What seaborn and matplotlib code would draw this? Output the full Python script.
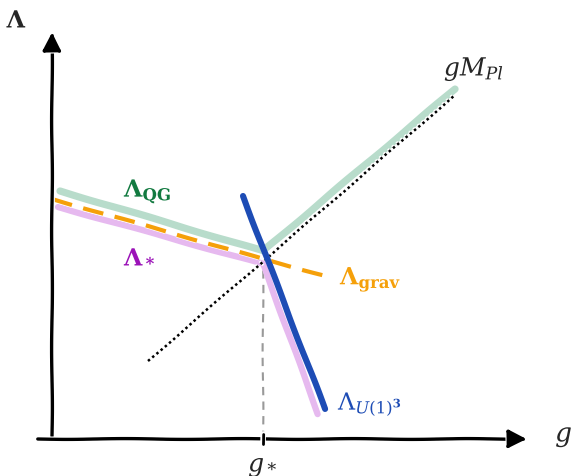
import matplotlib
matplotlib.use("Agg")
import matplotlib.pyplot as plt
import seaborn as sns
import pandas as pd

# Sketch of cutoff scales versus gauge coupling g (arbitrary units)
qg_g = [0.08, 2.11, 4.03]
qg_lam = [2.48, 1.88, 3.50]

grav_g = [0.00, 2.11, 2.78]
grav_lam = [2.40, 1.80, 1.62]

star_g = [0.06, 2.11, 2.66]
star_lam = [2.32, 1.75, 0.25]

u1_g = [1.91, 2.73]
u1_lam = [2.43, 0.30]

mpl_g = [0.96, 4.03]
mpl_lam = [0.78, 3.44]

g_star = 2.11

sns.set_style("white")
plt.xkcd(scale=0.4, length=120, randomness=1.5)
plt.rcParams["font.family"] = ["DejaVu Serif"]
plt.rcParams["mathtext.fontset"] = "dejavuserif"

fig = plt.figure(figsize=(5.73, 4.77), dpi=100)
ax = fig.add_axes([0, 0, 1, 1])
ax.set_xlim(-0.52, 5.21)
ax.set_ylim(-0.37, 4.40)
ax.axis("off")


def draw(gs, lams, color, lw, style="-", zorder=2):
    df = pd.DataFrame({"g": gs, "lam": lams})
    sns.lineplot(data=df, x="g", y="lam", ax=ax, color=color, lw=lw,
                 linestyle=style, sort=False, estimator=None, zorder=zorder)


draw(qg_g, qg_lam, "#b8dccb", 5.2, zorder=2)
draw(star_g, star_lam, "#e6b9ef", 4.5, zorder=2)
draw(mpl_g, mpl_lam, "black", 1.8, style=(0, (1, 1.2)), zorder=4)
draw(grav_g, grav_lam, "#f5a00a", 3.0, style=(0, (5, 2.8)), zorder=3)
draw(u1_g, u1_lam, "#1d4cb5", 4.4, zorder=5)

# vertical guide at g_*
ax.plot([g_star, g_star], [0, star_lam[1]], color="#999999", lw=1.5,
        linestyle=(0, (4, 3)), zorder=1)

# axes with arrowheads
ax.annotate("", xy=(0, 4.10), xytext=(0, 0),
            arrowprops=dict(arrowstyle="-|>", color="black", lw=2.4,
                            mutation_scale=28), zorder=6)
ax.annotate("", xy=(4.78, 0), xytext=(-0.17, 0),
            arrowprops=dict(arrowstyle="-|>", color="black", lw=2.4,
                            mutation_scale=28), zorder=6)
ax.plot([g_star, g_star], [-0.05, 0.05], color="black", lw=2, zorder=6)

# labels
ax.text(-0.35, 4.18, r"$\mathbf{\Lambda}$", fontsize=17, ha="center", va="center")
ax.text(5.12, 0.03, r"$g$", fontsize=19, ha="center", va="center")
ax.text(g_star, -0.28, r"$g_*$", fontsize=18, ha="center", va="center")
ax.text(4.22, 3.70, r"$gM_{Pl}$", fontsize=18, ha="center", va="center")
ax.text(0.72, 2.48, r"$\mathbf{\Lambda_{QG}}$", fontsize=17,
        color="#127a40", ha="left", va="center")
ax.text(0.72, 1.80, r"$\mathbf{\Lambda_*}$", fontsize=17, color="#9b12b8",
        ha="left", va="center")
ax.text(2.88, 1.60, r"$\mathbf{\Lambda_{grav}}$", fontsize=17,
        color="#f5a00a", ha="left", va="center")
ax.text(2.86, 0.35, r"$\Lambda_{U(1)^\mathbf{3}}$", fontsize=17,
        color="#1d4cb5", ha="left", va="center")

fig.savefig("out.png", dpi=100)
